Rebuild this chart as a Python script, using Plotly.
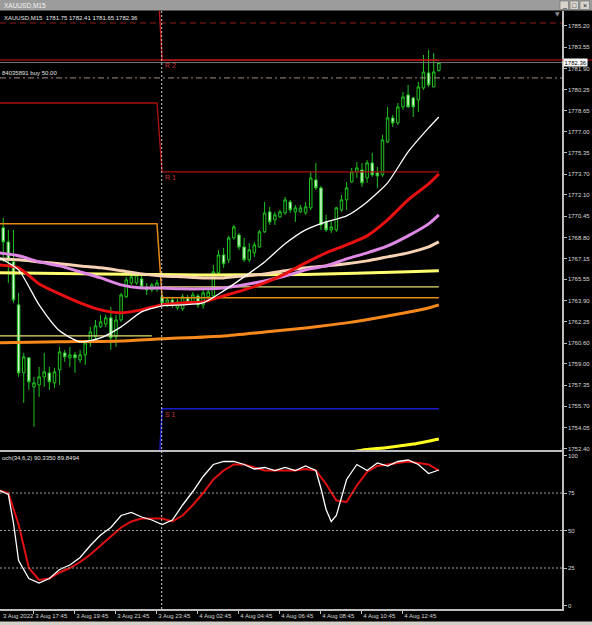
import plotly.graph_objects as go

W, H = 592, 625
PLOT_R = 562  # right edge of the plotting area (px)

def fx(px):
    return px / W

def fy(py):
    return 1 - py / H

# ---------------- data ----------------
bars = list(range(87))
opens = [1767.83, 1769.54, 1768.45, 1766.90, 1763.57, 1758.29, 1759.46, 1757.21, 1757.36, 1757.98,
         1758.29, 1757.52, 1758.53, 1759.84, 1759.46, 1759.69, 1759.30, 1759.69, 1760.62, 1761.09,
         1761.86, 1762.09, 1762.56, 1761.09, 1762.40, 1764.19, 1765.27, 1765.27, 1765.58, 1764.96,
         1764.73, 1764.88, 1764.19, 1763.72, 1763.95, 1763.33, 1763.26, 1764.11, 1763.80, 1764.26,
         1763.57, 1764.19, 1764.26, 1766.05, 1767.44, 1767.06, 1768.76, 1768.99, 1768.06, 1767.06,
         1767.60, 1768.06, 1769.23, 1770.78, 1770.16, 1770.39, 1770.70, 1771.55, 1770.78, 1770.78,
         1770.70, 1771.09, 1773.26, 1772.64, 1770.00, 1769.38, 1769.38, 1770.93, 1771.71, 1773.10,
         1773.88, 1774.03, 1773.41, 1774.58, 1773.80, 1773.65, 1776.21, 1778.07, 1777.68, 1778.92,
         1779.85, 1779.62, 1779.46, 1780.39, 1781.56, 1780.47, 1781.75]
highs = [1770.55, 1770.31, 1769.38, 1769.38, 1764.50, 1759.84, 1759.53, 1757.98, 1758.76, 1759.84,
         1758.76, 1758.68, 1760.31, 1760.08, 1760.31, 1759.92, 1760.08, 1760.85, 1761.86, 1762.40,
         1762.79, 1762.79, 1763.41, 1762.79, 1764.50, 1765.74, 1766.13, 1766.13, 1765.89, 1765.27,
         1765.27, 1765.51, 1764.42, 1764.19, 1764.19, 1764.03, 1764.42, 1764.34, 1764.57, 1764.42,
         1764.73, 1764.88, 1766.67, 1767.83, 1767.99, 1768.92, 1769.77, 1769.15, 1768.76, 1768.37,
         1768.45, 1769.38, 1771.55, 1771.17, 1770.78, 1770.93, 1771.94, 1771.71, 1771.32, 1771.32,
         1771.55, 1773.88, 1774.58, 1772.79, 1770.55, 1770.16, 1771.17, 1772.10, 1773.10, 1774.19,
         1774.65, 1774.58, 1774.81, 1775.35, 1774.27, 1776.75, 1778.92, 1778.30, 1779.23, 1780.08,
         1780.63, 1779.69, 1780.86, 1782.95, 1783.34, 1783.11, 1782.41]
lows = [1767.44, 1766.90, 1765.27, 1763.72, 1757.98, 1755.97, 1756.98, 1754.11, 1756.43, 1757.21,
        1756.98, 1757.13, 1757.36, 1759.15, 1758.76, 1758.29, 1759.07, 1758.91, 1760.31, 1760.85,
        1761.78, 1761.86, 1760.08, 1760.31, 1762.25, 1764.11, 1765.12, 1765.12, 1764.81, 1764.34,
        1764.57, 1764.57, 1763.49, 1763.41, 1763.33, 1763.18, 1763.10, 1763.57, 1763.64, 1763.33,
        1763.26, 1764.03, 1764.11, 1765.89, 1766.44, 1766.82, 1768.61, 1767.83, 1766.90, 1766.90,
        1767.29, 1767.99, 1769.15, 1769.77, 1769.77, 1770.31, 1770.55, 1770.70, 1770.00, 1770.70,
        1770.55, 1770.93, 1772.48, 1769.38, 1769.23, 1769.15, 1769.23, 1770.78, 1770.93, 1773.03,
        1773.41, 1772.72, 1773.03, 1773.49, 1772.64, 1773.49, 1776.13, 1777.37, 1777.52, 1778.69,
        1778.84, 1778.14, 1778.53, 1780.24, 1780.47, 1780.47, 1781.65]
closes = [1769.54, 1768.45, 1767.06, 1763.95, 1758.29, 1759.53, 1757.60, 1757.52, 1757.98, 1758.37,
          1757.60, 1758.37, 1759.92, 1759.53, 1759.69, 1759.46, 1759.69, 1760.62, 1761.47, 1761.94,
          1762.25, 1762.56, 1761.01, 1762.40, 1764.34, 1765.51, 1765.74, 1765.89, 1764.96, 1764.73,
          1765.12, 1765.27, 1763.72, 1763.95, 1763.57, 1763.80, 1764.19, 1763.72, 1764.34, 1763.57,
          1764.50, 1764.57, 1766.13, 1767.44, 1766.75, 1768.76, 1769.61, 1768.06, 1767.06, 1767.83,
          1768.22, 1769.23, 1770.70, 1770.00, 1770.55, 1770.78, 1771.71, 1770.93, 1771.09, 1771.09,
          1771.17, 1773.41, 1772.64, 1769.77, 1769.38, 1769.61, 1771.09, 1771.71, 1772.64, 1773.88,
          1774.19, 1773.03, 1774.58, 1773.65, 1773.57, 1776.36, 1778.07, 1777.68, 1778.92, 1779.69,
          1778.92, 1778.92, 1780.47, 1781.63, 1780.63, 1781.63, 1782.36]

ma_idx = [0, 4, 8, 12, 16, 20, 24, 28, 32, 36, 40, 44, 48, 52, 56, 60, 64, 68, 72, 76, 80, 84, 86]
ma_white = [1767.29, 1766.28, 1763.57, 1761.55, 1760.70, 1761.01, 1761.86, 1763.02, 1763.49, 1763.57,
            1763.72, 1764.65, 1765.74, 1766.90, 1768.30, 1769.38, 1770.00, 1770.47, 1771.55, 1773.03,
            1775.43, 1777.29, 1778.14]
ma_red = [1766.67, 1766.44, 1765.19, 1764.42, 1763.72, 1763.18, 1762.95, 1763.18, 1763.57, 1763.72,
          1763.80, 1764.26, 1764.73, 1765.27, 1765.97, 1766.82, 1767.60, 1768.22, 1768.92, 1770.16,
          1771.71, 1772.95, 1773.72]
ma_violet = [1767.60, 1767.37, 1766.90, 1766.59, 1766.13, 1765.66, 1765.12, 1764.88, 1764.88, 1764.81,
             1764.81, 1764.88, 1765.12, 1765.43, 1765.81, 1766.28, 1766.59, 1767.13, 1767.60, 1768.14,
             1768.92, 1769.85, 1770.55]
ma_beige = [1767.13, 1767.06, 1766.90, 1766.75, 1766.59, 1766.44, 1766.21, 1765.97, 1765.81, 1765.74,
            1765.66, 1765.66, 1765.81, 1765.97, 1766.21, 1766.44, 1766.59, 1766.75, 1766.98, 1767.29,
            1767.60, 1768.06, 1768.45]
ma_yellow_idx = [0, 20, 40, 60, 80, 86]
ma_yellow = [1766.05, 1765.97, 1765.89, 1765.93, 1766.13, 1766.21]
ma_orange_idx = [0, 12, 24, 32, 44, 52, 60, 68, 76, 84, 86]
ma_orange = [1760.62, 1760.70, 1760.77, 1760.93, 1761.16, 1761.47, 1761.78, 1762.17, 1762.71, 1763.33, 1763.57]
ma_gold_idx = [66, 71, 76, 81, 86]
ma_gold = [1751.95, 1752.30, 1752.50, 1752.77, 1753.17]

stoch_main_idx = [0, 2, 3, 4, 6, 8, 10, 12, 14, 16, 18, 20, 22, 24, 26, 28, 30, 32, 34, 36, 38, 40, 42, 44,
                  46, 48, 50, 52, 54, 56, 58, 60, 62, 63, 64, 65, 66, 67, 68, 70, 72, 74, 76, 78, 80, 82, 84, 86]
stoch_main = [77, 74, 55, 30, 18, 15, 18, 24, 27, 32, 40, 47, 52, 60, 62, 59, 57, 54, 57, 67, 76, 86, 94, 96,
              96, 94, 91, 92, 90, 92, 90, 93, 90, 78, 64, 56, 60, 72, 84, 94, 90, 95, 93, 96, 97, 94, 88, 90.34]
stoch_sig_idx = list(range(0, 87, 2))
stoch_sig = [77, 75, 54, 25, 17, 18, 22, 25, 29, 34, 40, 46, 52, 56, 58, 58, 58, 56, 60, 67, 75, 84,
             90, 94, 94, 92, 90, 90, 90, 90, 91, 90, 81, 70, 69, 80, 89, 93, 94, 95, 96, 95, 94, 89.85]
stoch_levels = [25, 50, 75]

day_split = 32           # first bar of 4 Aug
r2_levels = [1790.00, 1782.55]
r1_levels = [1779.23, 1773.88]
p_levels = [1769.85, 1764.11]
s1_levels = [1748.00, 1755.50]
aux_levels = [1761.16, 1764.96]

tp_price = 1785.43
order_price = 1781.17
ask_price = 1782.56
bid_price = 1782.36

price_ticks = [1785.20, 1783.55, 1781.90, 1780.25, 1778.65, 1777.00, 1775.35, 1773.70, 1772.10, 1770.45,
               1768.80, 1767.15, 1765.55, 1763.90, 1762.25, 1760.60, 1759.00, 1757.35, 1755.70, 1754.05, 1752.40]
stoch_ticks = [0, 25, 50, 75, 100]
time_tick_idx = [7, 15, 23, 31, 39, 47, 55, 63, 71, 79]
time_tick_text = ["3 Aug 17:45", "3 Aug 19:45", "3 Aug 21:45", "3 Aug 23:45", "4 Aug 02:45",
                  "4 Aug 04:45", "4 Aug 06:45", "4 Aug 08:45", "4 Aug 10:45", "4 Aug 12:45"]
first_date_label = "3 Aug 2022"

# ---------------- helpers ----------------
def step(levels, gap=None):
    out = []
    for i in bars:
        if gap is not None and i == gap:
            out.append(None)
        else:
            out.append(levels[0] if i < day_split else levels[1])
    return out

FONT = "Liberation Sans"
AXIS = "#bdbdbd"
GREEN = "#1fc41f"

fig = go.Figure()

fig.add_trace(go.Candlestick(
    x=bars, open=opens, high=highs, low=lows, close=closes,
    increasing=dict(line=dict(color=GREEN, width=1), fillcolor="#000000"),
    decreasing=dict(line=dict(color=GREEN, width=1), fillcolor="#d6f6d6"),
    whiskerwidth=0, xaxis="x", yaxis="y", hoverinfo="skip", showlegend=False))

def line(x, y, color, width, dash="solid", xa="x", ya="y"):
    fig.add_trace(go.Scatter(x=x, y=y, mode="lines", xaxis=xa, yaxis=ya,
                             line=dict(color=color, width=width, dash=dash, shape="spline", smoothing=0.6),
                             hoverinfo="skip", showlegend=False, connectgaps=False))

def stepline(y, color, width):
    fig.add_trace(go.Scatter(x=bars, y=y, mode="lines", xaxis="x", yaxis="y",
                             line=dict(color=color, width=width),
                             hoverinfo="skip", showlegend=False, connectgaps=False))

# pivot style levels
stepline(step(aux_levels, gap=31), "#e6dd78", 1.3)
stepline(step(p_levels), "#e68a14", 1.5)
stepline(step(r1_levels), "#a81010", 1.4)
stepline(step(r2_levels), "#c01818", 1.4)
stepline(step(s1_levels), "#1c1cc8", 1.5)

# moving averages
line(ma_orange_idx, ma_orange, "#f7881c", 3)
line(ma_gold_idx, ma_gold, "#ffff20", 3)
line(ma_yellow_idx, ma_yellow, "#ffff70", 3)
line(ma_idx, ma_beige, "#f8d2b4", 3)
line(ma_idx, ma_violet, "#e088e6", 3)
line(ma_idx, ma_red, "#e81010", 3)
line(ma_idx, ma_white, "#ffffff", 1.3)

# stochastic
fig.add_trace(go.Scatter(x=stoch_sig_idx, y=stoch_sig, mode="lines", xaxis="x2", yaxis="y2",
                         line=dict(color="#e01010", width=2), hoverinfo="skip", showlegend=False))
fig.add_trace(go.Scatter(x=stoch_main_idx, y=stoch_main, mode="lines", xaxis="x2", yaxis="y2",
                         line=dict(color="#ffffff", width=1.3), hoverinfo="skip", showlegend=False))

x_range = [0.371, 110.03]

shapes = []
# title bar and window chrome
shapes.append(dict(type="rect", xref="paper", yref="paper", x0=0, x1=1, y0=fy(10.5), y1=1,
                   fillcolor="#9c9c9c", line=dict(width=0), layer="below"))
for bx0, bx1 in [(560, 568.5), (570, 578.5), (580, 589.5)]:
    shapes.append(dict(type="rect", xref="paper", yref="paper", x0=fx(bx0), x1=fx(bx1), y0=fy(9.5), y1=fy(1),
                       fillcolor="#d8d4cc", line=dict(color="#6a6a6a", width=0.6)))
shapes.append(dict(type="rect", xref="paper", yref="paper", x0=0, x1=1, y0=0, y1=fy(621.5),
                   fillcolor="#d4d0c8", line=dict(width=0)))
# horizontal trade lines
shapes.append(dict(type="line", xref="x domain", yref="y", x0=0, x1=1, y0=tp_price, y1=tp_price,
                   line=dict(color="#8e1c1c", width=1.2, dash="6px,4px")))
shapes.append(dict(type="line", xref="x domain", yref="y", x0=0, x1=1, y0=order_price, y1=order_price,
                   line=dict(color="#a88a80", width=1, dash="6px,3px,2px,3px")))
shapes.append(dict(type="line", xref="x domain", yref="y", x0=0, x1=1, y0=bid_price, y1=bid_price,
                   line=dict(color="#777777", width=1)))
shapes.append(dict(type="line", xref="paper", yref="y", x0=0, x1=1, y0=ask_price, y1=ask_price,
                   line=dict(color="#c41818", width=1.2)))
# stochastic levels
for lv in stoch_levels:
    shapes.append(dict(type="line", xref="x2 domain", yref="y2", x0=0, x1=1, y0=lv, y1=lv,
                       line=dict(color="#9a9a9a", width=1, dash="2px,2px")))
# day separator
shapes.append(dict(type="line", xref="x", yref="paper", x0=day_split - 0.08, x1=day_split - 0.08,
                   y0=fy(609), y1=fy(11), line=dict(color="#cfcfcf", width=1, dash="2px,2px")))

ann = []
ann.append(dict(text="XAUUSD,M15", xref="paper", yref="paper", x=fx(2), y=fy(5.5), xanchor="left",
                yanchor="middle", showarrow=False, font=dict(family=FONT, size=6.5, color="#f4f4f4")))
for gx, g in [(564.2, "_"), (574.2, "□"), (584.7, "×")]:
    ann.append(dict(text=g, xref="paper", yref="paper", x=fx(gx), y=fy(5), xanchor="center",
                    yanchor="middle", showarrow=False, font=dict(family=FONT, size=7, color="#111111")))
ann.append(dict(text="XAUUSD,M15\u00a0\u00a01781.75 1782.41 1781.65 1782.36", xref="paper", yref="paper",
                x=fx(2), y=fy(18.5), xanchor="left", yanchor="middle", showarrow=False,
                font=dict(family=FONT, size=6, color="#e6e6e6")))
ann.append(dict(text="84035891 buy 50.00", xref="paper", yref="y", x=0, y=order_price, xanchor="left",
                yanchor="bottom", showarrow=False, font=dict(family=FONT, size=6, color="#e0e0e0")))
ann.append(dict(text="och(34,6,2) 90.3350 89.8494", xref="paper", yref="paper", x=0, y=fy(458),
                xanchor="left", yanchor="middle", showarrow=False,
                font=dict(family=FONT, size=6, color="#e6e6e6")))
for txt, lv in [("R 2", r2_levels[1]), ("R 1", r1_levels[1]), ("S 1", s1_levels[1])]:
    ann.append(dict(text=txt, xref="x", yref="y", x=day_split + 0.1, y=lv, xanchor="left", yanchor="top",
                    showarrow=False, font=dict(family=FONT, size=7, color="#c83030")))
ann.append(dict(text="1782.36", xref="paper", yref="y", x=fx(563), y=bid_price, xanchor="left",
                yanchor="middle", showarrow=False, bgcolor="#ffffff", borderpad=0.5,
                font=dict(family=FONT, size=6, color="#000000")))
ann.append(dict(text="▼", xref="paper", yref="paper", x=fx(557.5), y=fy(14), xanchor="center",
                yanchor="middle", showarrow=False, font=dict(family="DejaVu Sans", size=6, color="#8a8a8a")))
ann.append(dict(text=first_date_label, xref="paper", yref="paper", x=fx(0.5), y=fy(616), xanchor="left",
                yanchor="middle", showarrow=False, font=dict(family=FONT, size=6, color="#d8d8d8")))

fig.update_layout(
    width=W, height=H, margin=dict(l=0, r=0, t=0, b=0, autoexpand=False),
    paper_bgcolor="#000000", plot_bgcolor="#000000", showlegend=False,
    font=dict(family=FONT, size=6, color="#d8d8d8"),
    shapes=shapes, annotations=ann,
    xaxis=dict(domain=[0, fx(PLOT_R)], range=x_range, anchor="y", showgrid=False, zeroline=False,
               showticklabels=False, ticks="", showline=True, linecolor=AXIS, linewidth=2,
               rangeslider=dict(visible=False), fixedrange=True),
    yaxis=dict(domain=[fy(450), fy(11)], range=[1752.31, 1786.36], anchor="x", side="right",
               showgrid=False, zeroline=False, showline=True, linecolor=AXIS, linewidth=1.5,
               ticks="outside", ticklen=3, tickcolor=AXIS, tickvals=price_ticks,
               ticktext=[f"{v:.2f}" for v in price_ticks], automargin=False,
               tickfont=dict(family=FONT, size=6, color="#d8d8d8"), fixedrange=True),
    xaxis2=dict(domain=[0, fx(PLOT_R)], range=x_range, anchor="y2", showgrid=False, zeroline=False,
                showline=True, linecolor=AXIS, linewidth=1.5, ticks="outside", ticklen=3, tickcolor=AXIS,
                tickvals=time_tick_idx, ticktext=time_tick_text, ticklabelposition="outside right",
                tickangle=0, automargin=False,
                tickfont=dict(family=FONT, size=6, color="#d8d8d8"), fixedrange=True),
    yaxis2=dict(domain=[fy(609), fy(452)], range=[-2.33, 102.33], anchor="x2", side="right",
                showgrid=False, zeroline=False, showline=True, linecolor=AXIS, linewidth=1.5,
                ticks="outside", ticklen=3, tickcolor=AXIS, tickvals=stoch_ticks,
                ticktext=[str(v) for v in stoch_ticks], automargin=False,
                tickfont=dict(family=FONT, size=6, color="#d8d8d8"), fixedrange=True),
)

fig.write_html("out.html", config={"displayModeBar": False},
               post_script="document.body.style.margin='0';document.body.style.overflow='hidden';")
